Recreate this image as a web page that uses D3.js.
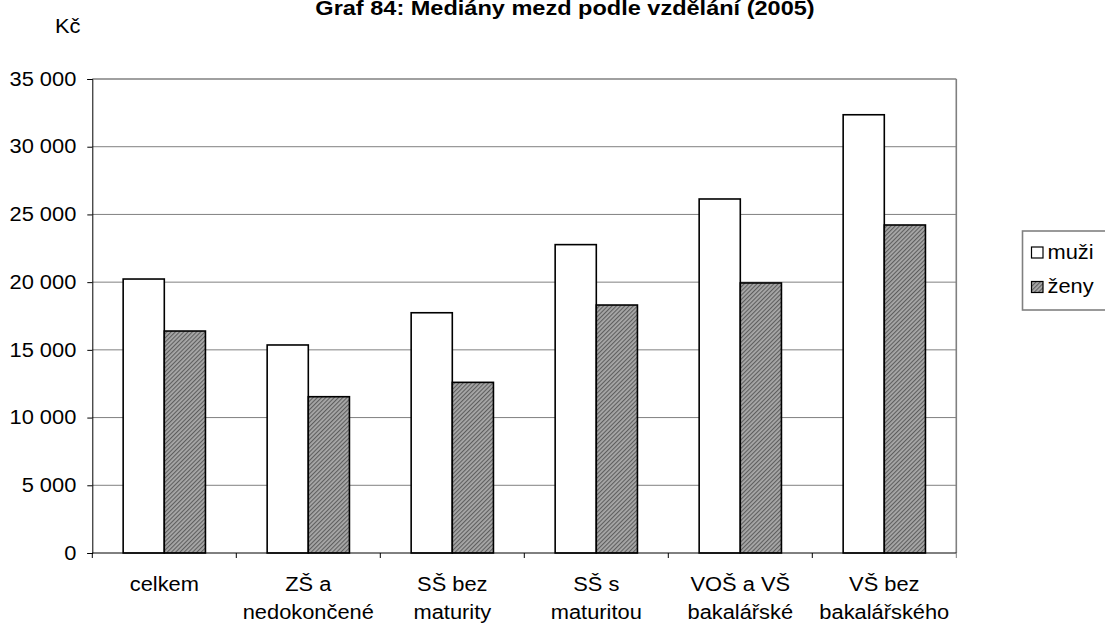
<!DOCTYPE html>
<meta charset="utf-8">
<script src="https://d3js.org/d3.v7.min.js"></script>
<style>
  body { margin: 0; background: #fff; font-family: 'Liberation Sans', Arial, sans-serif; }
  svg text { fill: #000; }
</style>
<body>
<svg width="1105" height="624"></svg>
</body>
<script>

// data
var categories = ["celkem", "ZŠ a nedokončené", "SŠ bez maturity", "SŠ s maturitou", "VOŠ a VŠ bakalářské", "VŠ bez bakalářského"];
var catLines = [["celkem"], ["ZŠ a", "nedokončené"], ["SŠ bez", "maturity"], ["SŠ s", "maturitou"], ["VOŠ a VŠ", "bakalářské"], ["VŠ bez", "bakalářského"]];
var seriesNames = ["muži", "ženy"];
var muzi = [20230, 15360, 17740, 22770, 26140, 32360];
var zeny = [16390, 11540, 12600, 18310, 19940, 24220];
var yTicks = [0, 5000, 10000, 15000, 20000, 25000, 30000, 35000];

var FS = 19.5, STRETCH = 1.12;

var svg = d3.select("svg"),
    margin = {top: 79, left: 92.3, right: 148.7, bottom: 71},
    width = +svg.attr("width") - margin.left - margin.right,
    height = +svg.attr("height") - margin.top - margin.bottom,
    g = svg.append("g").attr("transform", "translate(" + margin.left + "," + margin.top + ")");

// the original text is a bit wider than plain Arial, widen glyphs a little
function stretch(sel) {
  sel.each(function() {
    var l = this.getComputedTextLength();
    d3.select(this).attr("textLength", l * STRETCH).attr("lengthAdjust", "spacingAndGlyphs");
  });
}

// hatched fill for the second series
var defs = svg.append("defs");
var pat = defs.append("pattern")
    .attr("id", "hatch")
    .attr("patternUnits", "userSpaceOnUse")
    .attr("width", 3).attr("height", 3)
    .attr("patternTransform", "rotate(45)");
pat.append("rect").attr("width", 3).attr("height", 3).attr("fill", "#a8a8a8");
pat.append("rect").attr("width", 1.1).attr("height", 3).attr("fill", "#5e5e5e");

var x = d3.scaleBand().domain(categories).range([0, width]);
var gap = x.bandwidth() * 1.5 / 3.5;
var x1 = d3.scaleBand().domain(seriesNames).range([gap / 2, x.bandwidth() - gap / 2]);
var y = d3.scaleLinear().domain([0, 35000]).range([height, 0]);

var fmt = function(d) { return d3.format(",")(d).replace(/,/g, " "); };

// gridlines
g.append("g").selectAll("line")
  .data(yTicks.slice(1))
  .enter().append("line")
    .attr("x1", 0).attr("x2", width)
    .attr("y1", function(d) { return y(d); })
    .attr("y2", function(d) { return y(d); })
    .attr("stroke", "#808080")
    .attr("stroke-width", function(d) { return d == 35000 ? 1.6 : 1; });

// right border of plot area
g.append("line")
    .attr("x1", width).attr("x2", width)
    .attr("y1", 0).attr("y2", height)
    .attr("stroke", "#808080").attr("stroke-width", 1.6);

// bars
var data = categories.map(function(c, i) { return {cat: c, vals: [muzi[i], zeny[i]]}; });
var groups = g.append("g").selectAll("g")
  .data(data)
  .enter().append("g")
    .attr("transform", function(d) { return "translate(" + x(d.cat) + ",0)"; });

groups.selectAll("rect")
  .data(function(d) { return d.vals.map(function(v, j) { return {key: seriesNames[j], value: v}; }); })
  .enter().append("rect")
    .attr("x", function(d) { return x1(d.key); })
    .attr("y", function(d) { return y(d.value); })
    .attr("width", x1.bandwidth())
    .attr("height", function(d) { return y(0) - y(d.value); })
    .attr("fill", function(d) { return d.key == "muži" ? "#fff" : "url(#hatch)"; })
    .attr("stroke", "#000")
    .attr("stroke-width", 1.6);

// y axis
var yAxis = g.append("g")
    .call(d3.axisLeft(y).tickValues(yTicks).tickFormat(fmt).tickSize(5).tickPadding(11));
yAxis.select(".domain").attr("stroke", "#000");
yAxis.selectAll("line").attr("stroke", "#000");
yAxis.selectAll("text")
    .attr("font-family", "'Liberation Sans', Arial, sans-serif")
    .attr("font-size", FS)
    .attr("fill", "#000")
    .call(stretch);

// x axis
g.append("line")
    .attr("x1", 0).attr("x2", width)
    .attr("y1", height).attr("y2", height)
    .attr("stroke", "#000");
g.append("g").selectAll("line")
  .data(categories.concat(["end"]))
  .enter().append("line")
    .attr("x1", function(d) { return d == "end" ? width : x(d); })
    .attr("x2", function(d) { return d == "end" ? width : x(d); })
    .attr("y1", height).attr("y2", height + 5)
    .attr("stroke", function(d) { return d == "end" ? "#808080" : "#000"; });

var labels = g.append("g")
    .attr("font-size", FS)
    .attr("text-anchor", "middle")
  .selectAll("text")
  .data(categories)
  .enter().append("text")
    .attr("transform", function(d) { return "translate(" + (x(d) + x.bandwidth() / 2) + "," + (height + 38) + ")"; });
labels.selectAll("tspan")
  .data(function(d, i) { return catLines[i]; })
  .enter().append("tspan")
    .attr("x", 0)
    .attr("dy", function(d, i) { return i == 0 ? 0 : 28; })
    .text(function(d) { return d; })
    .call(stretch);

// title and unit
svg.append("text")
    .attr("x", 565).attr("y", 15)
    .attr("text-anchor", "middle")
    .attr("font-size", 21)
    .attr("font-weight", "bold")
    .text("Graf 84: Mediány mezd podle vzdělání (2005)")
    .call(stretch);

svg.append("text")
    .attr("x", 55).attr("y", 33)
    .attr("font-size", FS)
    .text("Kč")
    .call(stretch);

// legend
var legend = svg.append("g").attr("transform", "translate(1022.5,231)");
legend.append("rect")
    .attr("width", 100).attr("height", 79)
    .attr("fill", "#fff")
    .attr("stroke", "#808080")
    .attr("stroke-width", 1.6);
var items = legend.selectAll("g.item")
  .data(seriesNames)
  .enter().append("g")
    .attr("class", "item")
    .attr("transform", function(d, i) { return "translate(9," + (16 + i * 34.5) + ")"; });
items.append("rect")
    .attr("width", 11.5).attr("height", 11)
    .attr("fill", function(d) { return d == "muži" ? "#fff" : "url(#hatch)"; })
    .attr("stroke", "#000")
    .attr("stroke-width", 1.2);
items.append("text")
    .attr("x", 16).attr("y", 11.5)
    .attr("font-size", FS)
    .text(function(d) { return d; })
    .call(stretch);

</script>
